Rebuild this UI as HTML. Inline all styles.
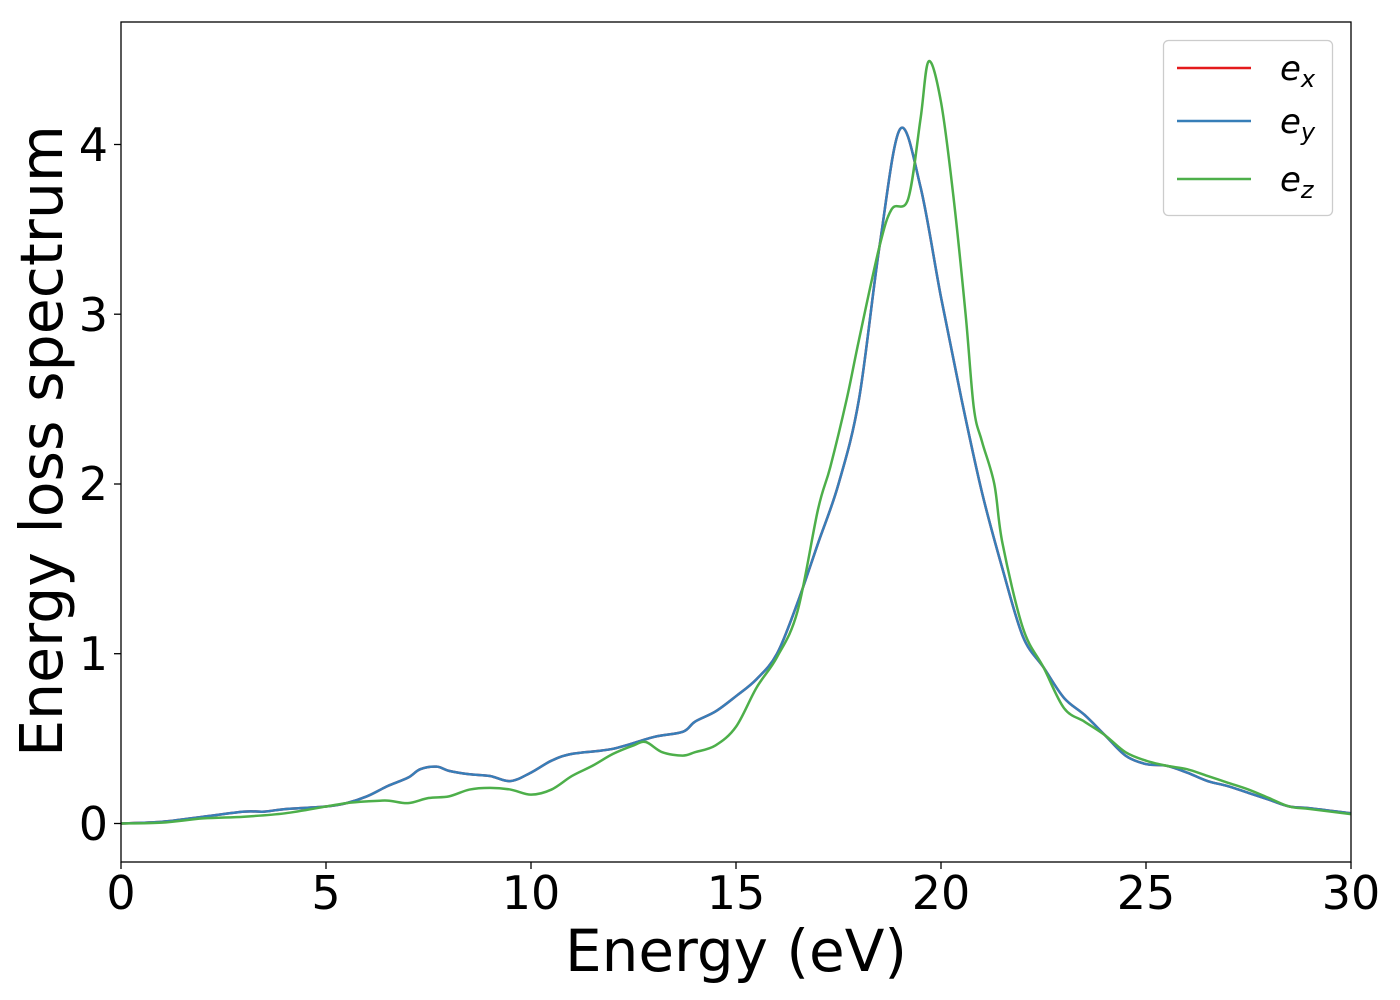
<!DOCTYPE html>
<html><head><meta charset="utf-8"><style>
html,body{margin:0;padding:0;background:#fff;}
svg{display:block;font-family:"DejaVu Sans","Liberation Sans",sans-serif;}
</style></head><body>
<svg id="s" width="1400" height="1000" xmlns="http://www.w3.org/2000/svg">
<rect width="1400" height="1000" fill="#fff"/>
<g id="curves" fill="none" stroke-width="2.5" stroke-linejoin="round"></g>
<rect x="121" y="22" width="1230" height="840" fill="none" stroke="#000" stroke-width="1.3"/>
<g stroke="#000" stroke-width="1.3">
<line x1="121" y1="862" x2="121" y2="869"/><line x1="326" y1="862" x2="326" y2="869"/><line x1="531" y1="862" x2="531" y2="869"/><line x1="736" y1="862" x2="736" y2="869"/><line x1="941" y1="862" x2="941" y2="869"/><line x1="1146" y1="862" x2="1146" y2="869"/><line x1="1351" y1="862" x2="1351" y2="869"/>
<line x1="114" y1="823.5" x2="121" y2="823.5"/><line x1="114" y1="653.7" x2="121" y2="653.7"/><line x1="114" y1="484" x2="121" y2="484"/><line x1="114" y1="314.2" x2="121" y2="314.2"/><line x1="114" y1="144.5" x2="121" y2="144.5"/>
</g>
<g font-size="46" text-anchor="middle" fill="#000">
<text x="121" y="909">0</text><text x="326" y="909">5</text><text x="531" y="909">10</text><text x="736" y="909">15</text><text x="941" y="909">20</text><text x="1146" y="909">25</text><text x="1351" y="909">30</text>
</g>
<g font-size="46" text-anchor="end" fill="#000">
<text x="108" y="840">0</text><text x="108" y="670">1</text><text x="108" y="500">2</text><text x="108" y="331">3</text><text x="108" y="161">4</text>
</g>
<text x="736" y="971" font-size="58" text-anchor="middle">Energy (eV)</text>
<text transform="translate(62,441) rotate(-90)" font-size="58.5" text-anchor="middle">Energy loss spectrum</text>
<rect x="1163.5" y="40.5" width="169" height="175" rx="5" fill="#fff" fill-opacity="0.8" stroke="#ccc" stroke-width="1.3"/>
<line x1="1177" y1="68" x2="1251" y2="68" stroke="#e41a1c" stroke-width="2.5"/>
<line x1="1177" y1="121" x2="1251" y2="121" stroke="#377eb8" stroke-width="2.5"/>
<line x1="1177" y1="179" x2="1251" y2="179" stroke="#4daf4a" stroke-width="2.5"/>
<g font-size="34" font-style="italic" fill="#000">
<text x="1280" y="80">e<tspan font-size="24" dy="7">x</tspan></text>
<text x="1280" y="133">e<tspan font-size="24" dy="7">y</tspan></text>
<text x="1280" y="191">e<tspan font-size="24" dy="7">z</tspan></text>
</g>
</svg>
<script>
var blue=[[0,0],[1,0.01],[2,0.04],[3,0.07],[3.5,0.07],[4,0.085],[5,0.1],[5.5,0.12],[6,0.16],[6.5,0.22],[7,0.27],[7.3,0.32],[7.7,0.335],[8,0.31],[8.5,0.29],[9,0.28],[9.5,0.25],[10,0.3],[10.5,0.37],[11,0.41],[12,0.44],[13,0.51],[13.7,0.54],[14,0.6],[14.5,0.66],[15,0.75],[15.5,0.85],[16,1.0],[16.5,1.3],[17,1.65],[17.5,2.0],[18,2.5],[18.5,3.4],[19,4.09],[19.5,3.75],[20,3.1],[20.5,2.5],[21,1.95],[21.5,1.5],[22,1.1],[22.5,0.92],[23,0.74],[23.5,0.64],[24,0.52],[24.5,0.4],[25,0.35],[25.5,0.34],[26,0.3],[26.5,0.25],[27,0.22],[27.5,0.18],[28,0.14],[28.5,0.1],[29,0.09],[30,0.06]];
var green=[[0,0],[1,0.005],[2,0.03],[3,0.04],[4,0.06],[5,0.1],[5.5,0.12],[6,0.13],[6.5,0.135],[7,0.12],[7.5,0.15],[8,0.16],[8.5,0.2],[9,0.21],[9.5,0.2],[10,0.17],[10.5,0.2],[11,0.28],[11.5,0.34],[12,0.41],[12.5,0.46],[12.8,0.48],[13.2,0.42],[13.7,0.4],[14,0.42],[14.5,0.46],[15,0.57],[15.5,0.8],[16,0.98],[16.5,1.25],[17,1.85],[17.3,2.1],[17.7,2.5],[18,2.85],[18.5,3.4],[18.8,3.62],[19.2,3.68],[19.5,4.15],[19.7,4.49],[20,4.25],[20.3,3.7],[20.6,3.0],[20.8,2.45],[21,2.25],[21.3,2.0],[21.5,1.65],[22,1.15],[22.5,0.92],[23,0.68],[23.5,0.6],[24,0.52],[24.5,0.42],[25,0.37],[25.5,0.34],[26,0.32],[26.5,0.28],[27,0.24],[27.5,0.2],[28,0.15],[28.5,0.1],[29,0.085],[30,0.055]];
function P(d){return d.map(function(p){return [121+p[0]*41,823.5-p[1]*169.75];});}
function path(d){var p=P(d),s="M"+p[0][0]+","+p[0][1];
for(var i=0;i<p.length-1;i++){var a=p[i-1]||p[i],b=p[i],c=p[i+1],e=p[i+2]||c;
s+=" C"+(b[0]+(c[0]-a[0])/6)+","+(b[1]+(c[1]-a[1])/6)+" "+(c[0]-(e[0]-b[0])/6)+","+(c[1]-(e[1]-b[1])/6)+" "+c[0]+","+c[1];}
return s;}
var g=document.getElementById("curves");
function add(d,col){var el=document.createElementNS("http://www.w3.org/2000/svg","path");el.setAttribute("d",path(d));el.setAttribute("stroke",col);g.appendChild(el);}
add(blue,"#e41a1c");add(blue,"#377eb8");add(green,"#4daf4a");
</script>
</body></html>
